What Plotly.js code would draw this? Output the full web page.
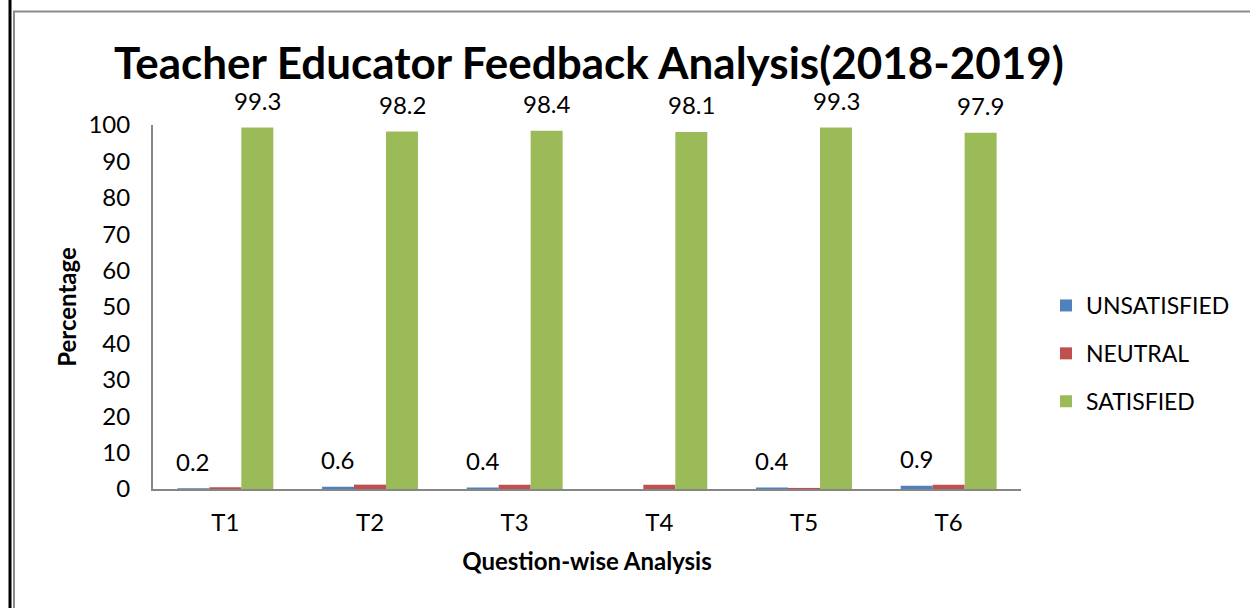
<!DOCTYPE html>
<html>
<head>
<meta charset="utf-8">
<script src="https://cdn.plot.ly/plotly-3.0.1.min.js"></script>
<style>
html,body{margin:0;padding:0;background:#fff;}
#chart{width:1250px;height:608px;}
</style>
</head>
<body>
<div id="chart"></div>
<script>
var categories = ["T1", "T2", "T3", "T4", "T5", "T6"];
var unsatisfied = [0.2, 0.6, 0.4, null, 0.4, 0.9];
var neutral = [0.5, 1.2, 1.2, 1.2, 0.3, 1.2];
var satisfied = [99.3, 98.2, 98.4, 98.1, 99.3, 97.9];
var seriesNames = ["UNSATISFIED", "NEUTRAL", "SATISFIED"];
var yTicks = [0, 10, 20, 30, 40, 50, 60, 70, 80, 90, 100];

var colors = ["#4F81BD", "#C0504D", "#9BBB59"];
var FONT = "Lato, 'Open Sans', sans-serif";

var L = 153, R = 229, T = 125, B = 119, W = 1250, H = 608;
var pw = W - L - R, ph = H - T - B;
function px2x(p){ return (p - L) / pw; }
function py2y(p){ return (H - B - p) / ph; }

var seriesData = [unsatisfied, neutral, satisfied];
var traces = seriesData.map(function(vals, i){
  return {
    type: "bar",
    name: seriesNames[i],
    x: categories,
    y: vals,
    marker: {color: colors[i]},
    legendgroup: "g" + i,
    hoverinfo: "x+y+name"
  };
});

var annotations = [];
function addLabels(vals, shift){
  vals.forEach(function(v, j){
    if (v === null) return;
    annotations.push({
      x: categories[j], y: v, xref: "x", yref: "y",
      text: String(v), showarrow: false,
      xshift: shift, yshift: 27,
      xanchor: "center", yanchor: "middle",
      font: {family: FONT, size: 24, color: "#000"}
    });
  });
}
addLabels(unsatisfied, -32);
addLabels(satisfied, 32);

var shapes = [
  {type: "line", xref: "paper", yref: "paper",
   x0: px2x(10), x1: px2x(10), y0: py2y(-5), y1: py2y(613),
   line: {color: "#000", width: 3}},
  {type: "line", xref: "paper", yref: "paper",
   x0: px2x(14), x1: px2x(14), y0: py2y(11.5), y1: py2y(613),
   line: {color: "#8c8c8c", width: 2}},
  {type: "line", xref: "paper", yref: "paper",
   x0: px2x(13), x1: px2x(1260), y0: py2y(11.5), y1: py2y(11.5),
   line: {color: "#8c8c8c", width: 2}}
];

var layout = {
  width: W, height: H,
  margin: {l: L, r: R, t: T, b: B, pad: 0},
  paper_bgcolor: "#fff",
  plot_bgcolor: "#fff",
  barmode: "group",
  bargap: 0.337,
  bargroupgap: 0,
  title: {
    text: "<b>Teacher Educator Feedback Analysis(2018-2019)</b>",
    font: {family: FONT, size: 44, color: "#000"},
    x: 589 / W, xanchor: "center", xref: "container",
    y: 1 - 64 / H, yanchor: "middle", yref: "container"
  },
  xaxis: {
    type: "category",
    showgrid: false, zeroline: false,
    showline: true, linecolor: "#868686", linewidth: 2,
    ticks: "",
    ticklabelstandoff: 11,
    tickfont: {family: FONT, size: 24, color: "#000"},
    title: {text: "<b>Question-wise Analysis</b>", font: {family: FONT, size: 24, color: "#000"}, standoff: 18},
    automargin: false, fixedrange: true
  },
  yaxis: {
    range: [0, 100],
    tickvals: yTicks,
    ticktext: yTicks.map(String),
    showgrid: false, zeroline: false,
    showline: true, linecolor: "#868686", linewidth: 2,
    ticks: "",
    ticklabelstandoff: 16,
    tickfont: {family: FONT, size: 24, color: "#000"},
    title: {text: "<b>Percentage</b>", font: {family: FONT, size: 24, color: "#000"}, standoff: 5},
    automargin: false, fixedrange: true
  },
  legend: {
    x: px2x(1046), xanchor: "left",
    y: py2y(284), yanchor: "top",
    font: {family: FONT, size: 23, color: "#000"},
    traceorder: "grouped",
    tracegroupgap: 15,
    itemwidth: 30,
    bgcolor: "rgba(0,0,0,0)"
  },
  annotations: annotations,
  shapes: shapes,
  showlegend: true
};

Plotly.newPlot("chart", traces, layout, {displayModeBar: false, staticPlot: true});
</script>
</body>
</html>
